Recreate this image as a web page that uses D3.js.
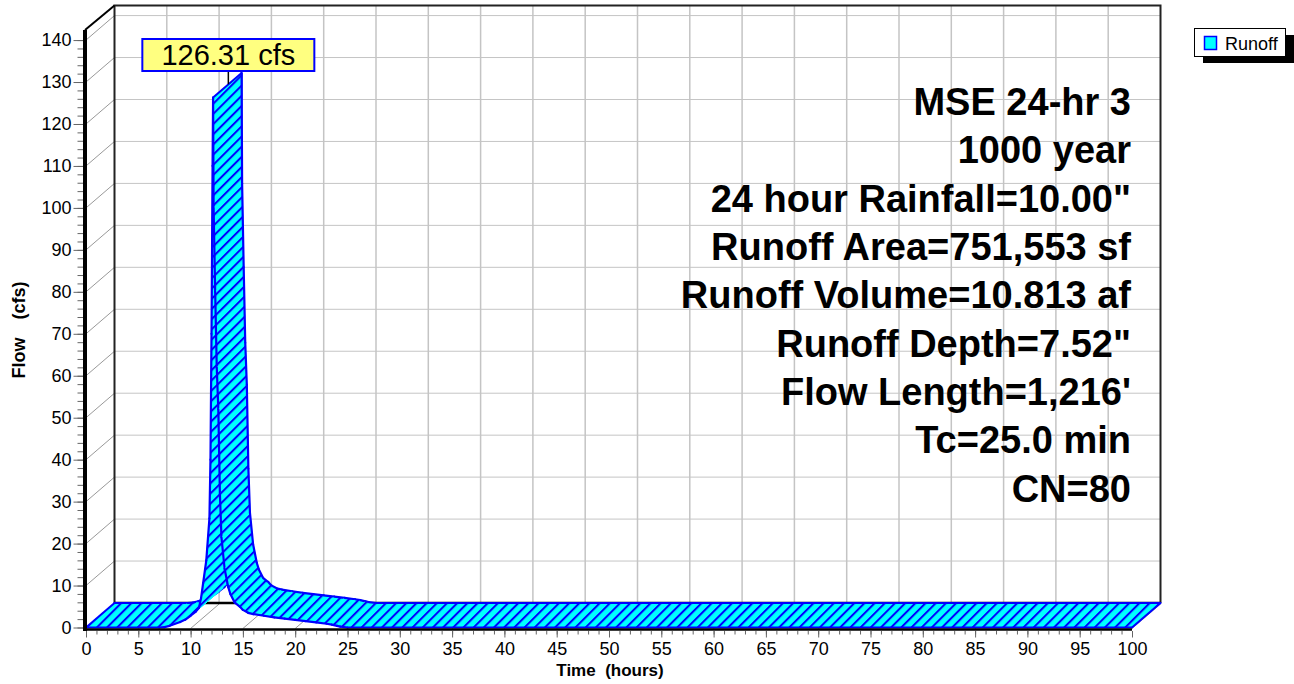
<!DOCTYPE html>
<html>
<head>
<meta charset="utf-8">
<script src="https://cdn.jsdelivr.net/npm/d3@7"></script>
<style>
body{margin:0;background:#fff;}
text{font-family:"Liberation Sans",Arial,sans-serif;}
</style>
</head>
<body>
<div id="chart"></div>
<script>
// hydrograph (hours, cfs)
var hours=[0,7.0,7.5,8.0,9.0,9.5,10.0,10.5,10.8,11.0,11.2,11.5,11.8,11.9,12.0,12.1,12.15,12.2,12.35,12.5,12.65,12.8,12.95,13.25,13.6,13.8,14.2,14.7,15.0,15.5,16.0,17.0,18.0,19.0,20.0,21.0,22.0,23.0,23.5,24.0,24.3,25.0,100];
var flows=[0,0,0.1,0.4,1.3,1.9,2.8,3.8,4.7,7.0,10.6,16.0,26.0,40.0,70.0,110.0,126.31,100.0,80.0,62.0,52.0,32.0,21.5,14.0,9.6,8.0,6.0,5.0,4.2,3.5,3.2,2.8,2.4,2.1,1.8,1.5,1.2,0.9,0.7,0.4,0.2,0,0];

var xTickValues=[0,5,10,15,20,25,30,35,40,45,50,55,60,65,70,75,80,85,90,95,100];
var yTickValues=[0,10,20,30,40,50,60,70,80,90,100,110,120,130,140];
var peakLabel="126.31 cfs";
var seriesName="Runoff";
var xTitle="Time  (hours)";
var yTitle="Flow  (cfs)";
var infoLines=["MSE 24-hr 3","1000 year","24 hour Rainfall=10.00\"","Runoff Area=751,553 sf","Runoff Volume=10.813 af","Runoff Depth=7.52\"","Flow Length=1,216'","Tc=25.0 min","CN=80"];

var w=1294,h=684,
    dx=28.5,dy=-24.5,   // depth offset of the back wall
    svg=d3.select("#chart").append("svg")
        .attr("width",w)
        .attr("height",h);

var x=d3.scaleLinear().domain([0,100]).range([86,1132]),
    y=d3.scaleLinear().domain([0,142.4]).range([627.5,30]);

var defs=svg.append("defs");
var pat=defs.append("pattern")
    .attr("id","hatch")
    .attr("patternUnits","userSpaceOnUse")
    .attr("width",7.2).attr("height",7.2)
    .attr("patternTransform","rotate(45)");
pat.append("rect").attr("width",7.2).attr("height",7.2).attr("fill","#00ffff");
pat.append("line").attr("x1",1).attr("y1",0).attr("x2",1).attr("y2",7.2)
    .attr("stroke","#0000ff").attr("stroke-width",2);

// back wall grid
var back=svg.append("g");
back.selectAll(".hg").data(yTickValues.slice(1)).enter().append("line")
    .attr("x1",x(0)+dx).attr("x2",x(100)+dx)
    .attr("y1",function(d){return y(d)+dy;}).attr("y2",function(d){return y(d)+dy;})
    .attr("stroke","#8a8a8a").attr("stroke-dasharray","1,1");
back.selectAll(".vg").data(xTickValues.slice(1,-1)).enter().append("line")
    .attr("x1",function(d){return x(d)+dx;}).attr("x2",function(d){return x(d)+dx;})
    .attr("y1",y(0)+dy).attr("y2",y(142.4)+dy)
    .attr("stroke","#c4c4c4").attr("stroke-width",1.5);

// side wall and floor diagonals
back.selectAll(".sd").data(yTickValues.slice(1)).enter().append("line")
    .attr("x1",x(0)).attr("y1",function(d){return y(d);})
    .attr("x2",x(0)+dx).attr("y2",function(d){return y(d)+dy;})
    .attr("stroke","#999");
back.selectAll(".fd").data(xTickValues.slice(1)).enter().append("line")
    .attr("x1",function(d){return x(d);}).attr("y1",y(0)+1)
    .attr("x2",function(d){return x(d)+dx;}).attr("y2",y(0)+1+dy)
    .attr("stroke","#999");

// wall borders
var bx0=x(0)+dx,bx1=x(100)+dx,by0=y(0)+dy,by1=y(142.4)+dy;
back.append("path")
    .attr("d","M"+bx0+","+by0+"V"+by1+"H"+bx1+"V"+by0)
    .attr("fill","none").attr("stroke","#222").attr("stroke-width",2);
back.append("line").attr("x1",bx0).attr("x2",bx1).attr("y1",by0).attr("y2",by0)
    .attr("stroke","#000").attr("stroke-width",2.5);
back.append("line").attr("x1",x(0)-1).attr("y1",y(142.4)).attr("x2",bx0).attr("y2",by1)
    .attr("stroke","#000").attr("stroke-width",2);

// ribbon, drawn left to right so the falling limb covers the rising one
var pts=hours.map(function(t,i){return [x(t),y(flows[i])];});
var ribbon=svg.append("g");
for(var i=0;i<pts.length-1;i++){
  var a=pts[i],b=pts[i+1];
  var quad=[a,b,[b[0]+dx,b[1]+dy],[a[0]+dx,a[1]+dy]];
  ribbon.append("path")
      .attr("d","M"+quad.join("L")+"Z")
      .attr("fill","url(#hatch)")
      .attr("stroke","url(#hatch)").attr("stroke-width",0.8);
  ribbon.append("line").attr("x1",a[0]).attr("y1",a[1]).attr("x2",b[0]).attr("y2",b[1])
      .attr("stroke","#0000ff").attr("stroke-width",2.2).attr("stroke-linecap","round");
  ribbon.append("line").attr("x1",a[0]+dx).attr("y1",a[1]+dy).attr("x2",b[0]+dx).attr("y2",b[1]+dy)
      .attr("stroke","#0000ff").attr("stroke-width",2.2).attr("stroke-linecap","round");
}
var pk=d3.maxIndex(flows);
[0,pk,pts.length-1].forEach(function(k){
  ribbon.append("line")
      .attr("x1",pts[k][0]).attr("y1",pts[k][1])
      .attr("x2",pts[k][0]+dx).attr("y2",pts[k][1]+dy)
      .attr("stroke","#0000ff").attr("stroke-width",2);
});

// x axis
svg.append("line").attr("x1",x(0)).attr("x2",x(100)).attr("y1",629.5).attr("y2",629.5)
    .attr("stroke","#000").attr("stroke-width",2.5);
var xMinor=svg.append("g").attr("transform","translate(0,631)")
    .call(d3.axisBottom(x).ticks(100).tickSize(3.5).tickFormat(""));
var xAxis=svg.append("g").attr("transform","translate(0,631)")
    .call(d3.axisBottom(x).tickValues(xTickValues).tickSize(6.5).tickPadding(4.5).tickFormat(d3.format("d")));

// y axis
svg.append("line").attr("x1",85).attr("x2",85).attr("y1",y(142.4)).attr("y2",631)
    .attr("stroke","#000").attr("stroke-width",4);
var yMinor=svg.append("g").attr("transform","translate(83,0)")
    .call(d3.axisLeft(y).tickValues(d3.range(0,141,2)).tickSize(5.5).tickFormat(""));
var yAxis=svg.append("g").attr("transform","translate(83,0)")
    .call(d3.axisLeft(y).tickValues(yTickValues).tickSize(9.5).tickPadding(2).tickFormat(d3.format("d")));

[xMinor,xAxis,yMinor,yAxis].forEach(function(g){
  g.select(".domain").remove();
  g.selectAll(".tick line").attr("stroke","#666");
  g.selectAll("text").attr("font-size",18).attr("font-family","'Liberation Sans',Arial,sans-serif").attr("fill","#000");
});

svg.append("text").attr("x",610).attr("y",676).attr("text-anchor","middle")
    .attr("font-size",17).attr("font-weight","bold").style("white-space","pre").text(xTitle);
svg.append("text").attr("transform","translate(25,330) rotate(-90)").attr("text-anchor","middle")
    .attr("font-size",18).attr("font-weight","bold").attr("word-spacing",4).style("white-space","pre").text(yTitle);

// peak label
var pmx=pts[pk][0]+dx/2, pmy=pts[pk][1]+dy/2;
svg.append("line").attr("x1",pmx+1).attr("x2",pmx+1).attr("y1",71).attr("y2",pmy-1)
    .attr("stroke","#000").attr("stroke-width",1.5);
svg.append("rect").attr("x",pmx-85).attr("y",39).attr("width",172).attr("height",32)
    .attr("fill","#ffff80").attr("stroke","#0000ff").attr("stroke-width",2);
svg.append("text").attr("x",pmx+1).attr("y",65).attr("text-anchor","middle")
    .attr("font-size",29).text(peakLabel);

// info text
svg.append("g").selectAll("text").data(infoLines).enter().append("text")
    .attr("x",1131).attr("y",function(d,i){return 115+i*48.35;})
    .attr("text-anchor","end").attr("font-size",38).attr("font-weight","bold")
    .text(function(d){return d;});

// legend
var lg=svg.append("g");
lg.append("rect").attr("x",1203).attr("y",35).attr("width",92).attr("height",28).attr("fill","#000");
lg.append("rect").attr("x",1194.5).attr("y",28.5).attr("width",91).attr("height",28)
    .attr("fill","#fff").attr("stroke","#000").attr("stroke-width",1);
lg.append("rect").attr("x",1204.5).attr("y",36.5).attr("width",12).attr("height",13)
    .attr("fill","#00ffff").attr("stroke","#0000ff").attr("stroke-width",1.5);
lg.append("text").attr("x",1225).attr("y",49.5).attr("font-size",18).text(seriesName);
</script>
</body>
</html>
